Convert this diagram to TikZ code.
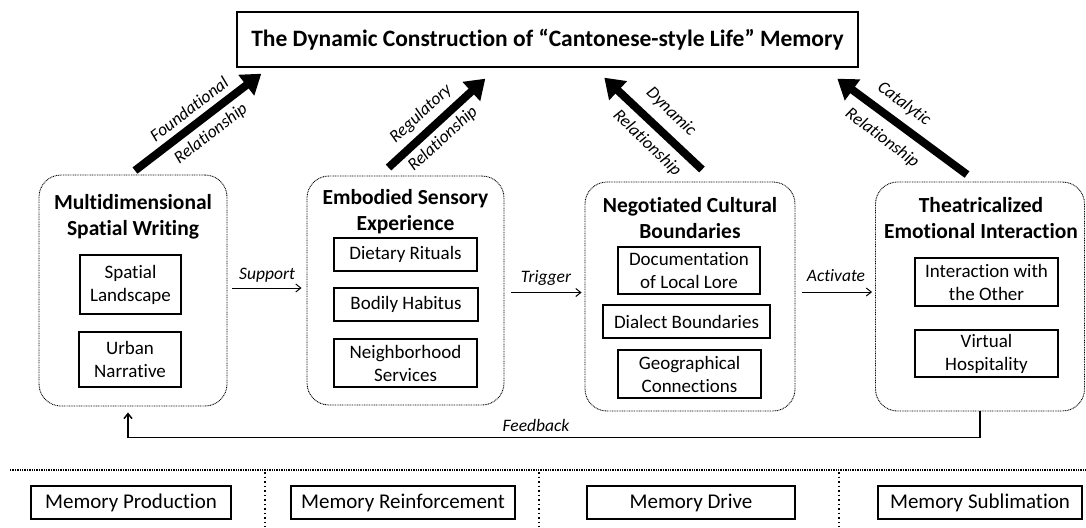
\documentclass[tikz,border=0pt]{standalone}
\usepackage{fontspec}
\setmainfont{Carlito}[Ligatures={TeX,NoCommon}]
\usetikzlibrary{arrows.meta,calc}
\begin{document}
\begin{tikzpicture}[x=1pt,y=-1pt,
  bigbox/.style={draw, line width=0.9pt, dash pattern=on 0.9pt off 0.8pt, rounded corners=22pt, inner sep=0pt},
  subbox/.style={draw, line width=1.1pt, inner sep=0pt, align=center, font=\fontsize{19}{23}\selectfont},
  headtxt/.style={align=center, inner sep=0pt, font=\bfseries\fontsize{21.5}{26}\selectfont},
  lbl/.style={inner sep=0pt, font=\itshape\fontsize{17.5}{20}\selectfont},
  rellbl/.style={inner sep=0pt, font=\itshape\fontsize{17.5}{20}\selectfont},
  bigarrow/.style={line width=8pt, -{Triangle[length=19pt,width=25pt]}},
  thinarrow/.style={line width=1pt, -{Straight Barb[length=5pt,width=8pt]}},
  botbox/.style={draw, line width=1.1pt, inner sep=0pt, minimum height=33pt, font=\fontsize{21}{25}\selectfont},
  sepline/.style={line width=1.5pt, dash pattern=on 1.5pt off 3pt}
]
\useasboundingbox (0,0) rectangle (1086,527);

% title
\node[draw, line width=1.4pt, minimum width=621pt, minimum height=55pt, inner sep=0pt,
      font=\bfseries\fontsize{23.5}{27}\selectfont] (title) at (547.5,39.5)
  {The Dynamic Construction of “Cantonese-style Life” Memory};

% big boxes
\node[bigbox, minimum width=188pt, minimum height=231pt] (b1) at (133,290.5) {};
\node[bigbox, minimum width=197pt, minimum height=229pt] (b2) at (405.5,290.5) {};
\node[bigbox, minimum width=210pt, minimum height=229pt] (b3) at (690,296.5) {};
\node[bigbox, minimum width=209pt, minimum height=229pt] (b4) at (980,296.5) {};

% headings
\node[headtxt] (t1) at (133,216.5) {Multidimensional\\Spatial Writing};
\node[headtxt] (t2) at (405.5,211.5) {Embodied Sensory\\Experience};
\node[headtxt] (t3) at (690,218) {Negotiated Cultural\\Boundaries};
\node[headtxt] (t4) at (981,218) {Theatricalized\\Emotional Interaction};

% sub boxes
\node[subbox, minimum width=101pt, minimum height=59pt] (s1a) at (130.5,284.5) {Spatial\\Landscape};
\node[subbox, minimum width=102pt, minimum height=55pt] (s1b) at (130,359.5) {Urban\\Narrative};
\node[subbox, minimum width=143pt, minimum height=33pt] (s2a) at (405.5,254.5) {Dietary Rituals};
\node[subbox, minimum width=144pt, minimum height=33pt] (s2b) at (406,304.5) {Bodily Habitus};
\node[subbox, minimum width=143pt, minimum height=48pt] (s2c) at (405.5,363) {Neighborhood\\Services};
\node[subbox, minimum width=142pt, minimum height=47pt] (s3a) at (689,270.5) {Documentation\\of Local Lore};
\node[subbox, minimum width=167pt, minimum height=33pt] (s3b) at (686.5,321.5) {Dialect Boundaries};
\node[subbox, minimum width=143pt, minimum height=48pt] (s3c) at (689.5,374) {Geographical\\Connections};
\node[subbox, minimum width=143pt, minimum height=48pt] (s4a) at (986.5,282) {Interaction with\\the Other};
\node[subbox, minimum width=143pt, minimum height=47pt] (s4b) at (986.5,353.5) {Virtual\\Hospitality};

% thick arrows to title
\coordinate (a1s) at ($(b1.north)+(2,-4)$);
\coordinate (a1e) at ($(title.south west)+(25,6)$);
\coordinate (a2s) at ($(b2.north)+(-17,-8)$);
\coordinate (a2e) at ($(title.south west)+(249,11)$);
\coordinate (a3s) at ($(b3.north)+(12,-12)$);
\coordinate (a3e) at ($(title.south west)+(368,10)$);
\coordinate (a4s) at ($(b4.north)+(-13,-7)$);
\coordinate (a4e) at ($(title.south west)+(601,11)$);
\draw[bigarrow] (a1s) -- (a1e);
\draw[bigarrow] (a2s) -- (a2e);
\draw[bigarrow] (a3s) -- (a3e);
\draw[bigarrow] (a4s) -- (a4e);

\node[rellbl, rotate=37.7] (r1a) at (189,109) {Foundational};
\node[rellbl, rotate=37.7] (r1b) at (211,134) {Relationship};
\node[rellbl, rotate=42.5] (r2a) at (421,114) {Regulatory};
\node[rellbl, rotate=42.5] (r2b) at (443,139) {Relationship};
\node[rellbl, rotate=-44] (r3a) at (671,112) {Dynamic};
\node[rellbl, rotate=-44] (r3b) at (647,143) {Relationship};
\node[rellbl, rotate=-37] (r4a) at (904,104) {Catalytic};
\node[rellbl, rotate=-37] (r4b) at (882,138) {Relationship};

% horizontal arrows
\draw[thinarrow] ($(b1.east)+(5,-2.5)$) -- ($(b2.west)+(-5,-2.5)$);
\draw[thinarrow] ($(b2.east)+(7,2)$) -- ($(b3.west)+(-3,-4)$);
\draw[thinarrow] ($(b3.east)+(7,-4.5)$) -- ($(b4.west)+(-3,-4.5)$);
\node[lbl] (lsup) at (267,275) {Support};
\node[lbl] (ltrig) at (546,278) {Trigger};
\node[lbl] (lact) at (836,276) {Activate};

% feedback
\coordinate (fbend) at ($(b1.south)+(-5,6)$);
\draw[line width=1.5pt, -{Straight Barb[length=5pt,width=8pt]}] (b4.south) -- ++(0,26) -| (fbend);
\node[lbl] (lfb) at (536,425) {Feedback};

% bottom separators
\draw[line width=1.5pt, dash pattern=on 1.3pt off 1.1pt] (10,470) -- (1086,470);
\draw[sepline] (265,472) -- (265,527);
\draw[sepline] (539,472) -- (539,527);
\draw[sepline] (839,472) -- (839,527);

% bottom boxes
\node[botbox, minimum width=200pt] (m1) at (131,502.5) {Memory Production};
\node[botbox, minimum width=224pt] (m2) at (403,502.5) {Memory Reinforcement};
\node[botbox, minimum width=208pt] (m3) at (691,502.5) {Memory Drive};
\node[botbox, minimum width=204pt] (m4) at (980,502.5) {Memory Sublimation};
\end{tikzpicture}
\end{document}
